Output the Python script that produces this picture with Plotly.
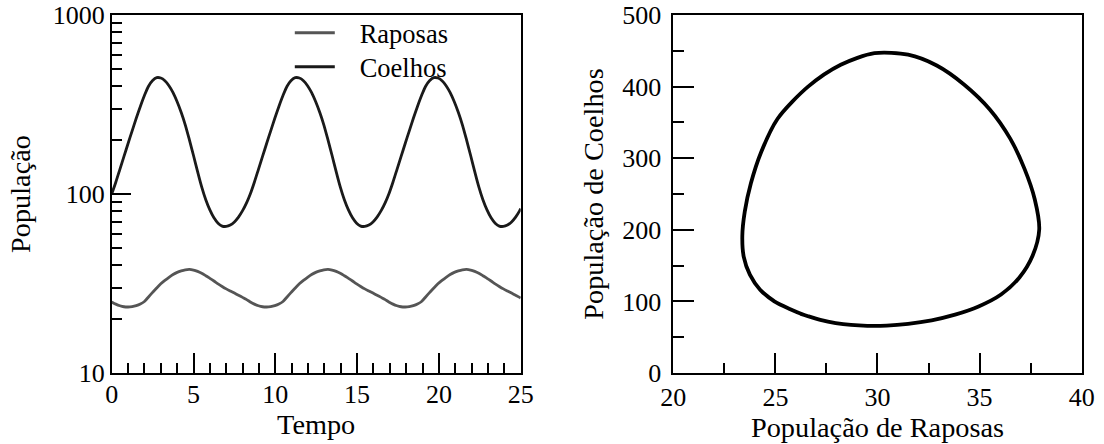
import plotly.graph_objects as go

tempo = [0.00, 0.25, 0.50, 0.75, 1.00, 1.25, 1.50, 1.75, 2.00, 2.25, 2.50, 2.75, 3.00, 3.25, 3.50, 3.75, 4.00,
         4.25, 4.50, 4.75, 5.00, 5.25, 5.50, 5.75, 6.00, 6.25, 6.50, 6.75, 7.00, 7.25, 7.50, 7.75, 8.00, 8.25,
         8.47, 8.72, 8.97, 9.22, 9.47, 9.72, 9.97, 10.22, 10.47, 10.72, 10.97, 11.22, 11.47, 11.72, 11.97, 12.22, 12.47,
         12.72, 12.97, 13.22, 13.47, 13.72, 13.97, 14.22, 14.47, 14.72, 14.97, 15.22, 15.47, 15.72, 15.97, 16.22, 16.47, 16.72,
         16.94, 17.19, 17.44, 17.69, 17.94, 18.19, 18.44, 18.69, 18.94, 19.19, 19.44, 19.69, 19.94, 20.19, 20.44, 20.69, 20.94,
         21.19, 21.44, 21.69, 21.94, 22.19, 22.44, 22.69, 22.94, 23.19, 23.44, 23.69, 23.94, 24.19, 24.44, 24.69, 24.94,
         25.00]

# Rabbits (Coelhos)
coelhos = [100, 116.4, 137.4, 162.2, 191.4, 225.4, 264.9, 308.3, 354.8, 399.9, 430.5, 446.7, 444.6, 429.5, 402.7, 368.1, 327.3,
           285.1, 242.7, 200.4, 164.1, 133.4, 109.6, 92.9, 81.5, 73.6, 68.7, 66.2, 65.9, 67.1, 69.8, 74.3, 80.7, 89.5,
           100, 116.4, 137.4, 162.2, 191.4, 225.4, 264.9, 308.3, 354.8, 399.9, 430.5, 446.7, 444.6, 429.5, 402.7, 368.1, 327.3,
           285.1, 242.7, 200.4, 164.1, 133.4, 109.6, 92.9, 81.5, 73.6, 68.7, 66.2, 65.9, 67.1, 69.8, 74.3, 80.7, 89.5,
           100, 116.4, 137.4, 162.2, 191.4, 225.4, 264.9, 308.3, 354.8, 399.9, 430.5, 446.7, 444.6, 429.5, 402.7, 368.1, 327.3,
           285.1, 242.7, 200.4, 164.1, 133.4, 109.6, 92.9, 81.5, 73.6, 68.7, 66.2, 65.9, 67.1, 69.8, 74.3, 80.7,
           82.8]

# Foxes (Raposas)
raposas = [24.95, 24.25, 23.75, 23.45, 23.38, 23.50, 23.80, 24.30, 25.10, 26.60, 28.20, 29.85, 31.50, 32.90, 34.25, 35.50, 36.50,
           37.20, 37.70, 37.92, 37.60, 36.95, 36.05, 34.95, 33.80, 32.65, 31.50, 30.45, 29.50, 28.70, 27.95, 27.20, 26.45, 25.70,
           24.95, 24.25, 23.75, 23.45, 23.38, 23.50, 23.80, 24.30, 25.10, 26.60, 28.20, 29.85, 31.50, 32.90, 34.25, 35.50, 36.50,
           37.20, 37.70, 37.92, 37.60, 36.95, 36.05, 34.95, 33.80, 32.65, 31.50, 30.45, 29.50, 28.70, 27.95, 27.20, 26.45, 25.70,
           24.95, 24.25, 23.75, 23.45, 23.38, 23.50, 23.80, 24.30, 25.10, 26.60, 28.20, 29.85, 31.50, 32.90, 34.25, 35.50, 36.50,
           37.20, 37.70, 37.92, 37.60, 36.95, 36.05, 34.95, 33.80, 32.65, 31.50, 30.45, 29.50, 28.70, 27.95, 27.20, 26.45,
           26.20]

left_yticks = [10, 100, 1000]
left_yminor = [20, 30, 40, 50, 60, 70, 80, 90, 200, 300, 400, 500, 600, 700, 800, 900]
left_xticks = [0, 5, 10, 15, 20, 25]
right_xticks = [20, 25, 30, 35, 40]
right_yticks = [0, 100, 200, 300, 400, 500]

FONT = "Liberation Serif"
FT = 26      # tick labels
FA = 28.3    # axis titles
FL = 26.5    # legend
W, H = 1104, 444
NB = "\u00a0\u00a0\u00a0"

fig = go.Figure()
fig.add_trace(go.Scatter(x=tempo, y=raposas, mode="lines", name=NB + "Raposas", legend="legend",
                         line=dict(color="#555555", width=2.8, shape="spline", smoothing=0.8),
                         xaxis="x", yaxis="y"))
fig.add_trace(go.Scatter(x=tempo, y=coelhos, mode="lines", name=NB + "Coelhos", legend="legend2",
                         line=dict(color="#1a1a1a", width=2.8, shape="spline", smoothing=0.8),
                         xaxis="x", yaxis="y"))
fig.add_trace(go.Scatter(x=raposas, y=coelhos, mode="lines", showlegend=False,
                         line=dict(color="#000000", width=3.8, shape="spline", smoothing=0.8),
                         xaxis="x2", yaxis="y2"))

axis_common = dict(showline=True, mirror=True, linecolor="black", linewidth=1.5, automargin=False,
                   ticks="inside", tickcolor="black", tickwidth=1.5, showgrid=False, zeroline=False,
                   tickfont=dict(family=FONT, size=FT, color="black"),
                   title_font=dict(family=FONT, size=FA, color="black"))

leg_common = dict(xanchor="left", yanchor="middle", bgcolor="rgba(0,0,0,0)",
                  font=dict(family=FONT, size=FL, color="black"), itemwidth=40)

fig.update_layout(
    width=W, height=H,
    margin=dict(l=0, r=0, t=15, b=71, autoexpand=False),
    paper_bgcolor="white", plot_bgcolor="white",
    font=dict(family=FONT, size=FT, color="black"),
    showlegend=True,
    legend=dict(x=0.2625, y=1 - (33 - 15) / 358, **leg_common),
    legend2=dict(x=0.2625, y=1 - (67 - 15) / 358, **leg_common),
    xaxis=dict(domain=[0.10118, 0.47165], range=[0, 25], tickvals=left_xticks, ticklen=20,
               ticklabelstandoff=-3,
               minor=dict(dtick=1, ticks="inside", ticklen=10, tickcolor="black", tickwidth=1.5),
               title=dict(text="Tempo", standoff=0), anchor="y", **axis_common),
    yaxis=dict(domain=[0, 1], type="log", range=[1, 3], tickvals=left_yticks, ticktext=["10", "100", "1000"],
               ticklen=20,
               minor=dict(tickvals=left_yminor, ticks="inside", ticklen=11, tickcolor="black", tickwidth=1.5),
               title=dict(text="População", standoff=14), anchor="x", **axis_common),
    xaxis2=dict(domain=[0.60987, 0.97980], range=[20, 40], tickvals=right_xticks, ticklen=20,
                ticklabelstandoff=0,
                minor=dict(dtick=2.5, ticks="inside", ticklen=10, tickcolor="black", tickwidth=1.5),
                title=dict(text="População de Raposas", standoff=0), anchor="y2", **axis_common),
    yaxis2=dict(domain=[0, 1], range=[0, 500], tickvals=right_yticks, ticklen=21,
                ticklabelstandoff=5,
                minor=dict(dtick=50, ticks="inside", ticklen=11, tickcolor="black", tickwidth=1.5),
                title=dict(text="População de Coelhos", standoff=10), anchor="x2", **axis_common),
)

fig.write_html("out.html")
